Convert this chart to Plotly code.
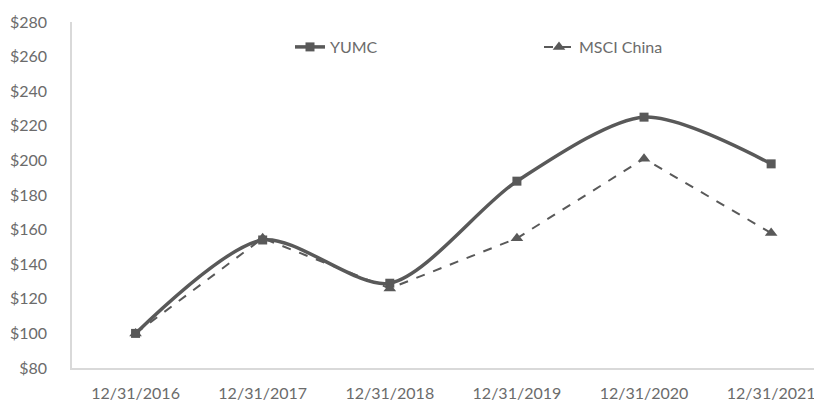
import plotly.graph_objects as go

categories = ["12/31/2016", "12/31/2017", "12/31/2018", "12/31/2019", "12/31/2020", "12/31/2021"]
yumc = [100, 154, 129, 188, 225, 198]
msci = [100, 155, 126, 155, 201, 158]
y_ticks = [80, 100, 120, 140, 160, 180, 200, 220, 240, 260, 280]
y_tick_labels = ["$" + str(v) for v in y_ticks]

grey = "#595959"
label_grey = "#6b6b6b"
fig = go.Figure()
fig.add_trace(go.Scatter(
    x=categories, y=yumc, name="YUMC", mode="lines+markers",
    line=dict(color=grey, width=3.5, shape="spline", smoothing=0.8),
    marker=dict(symbol="square", size=9, color=grey),
    legend="legend",
))
fig.add_trace(go.Scatter(
    x=categories, y=msci, name="MSCI China", mode="lines+markers",
    line=dict(color=grey, width=2, dash="dash"),
    marker=dict(symbol="triangle-up", size=11, color=grey),
    legend="legend2",
))

# page has an 8px body margin; plot area target: x 72..822, y 22..368
ly = (368 - 47) / 346
fig.update_layout(
    width=814, height=395,
    margin=dict(l=64, r=0, t=14, b=35, autoexpand=False),
    paper_bgcolor="white", plot_bgcolor="white",
    font=dict(family="Lato, Open Sans, sans-serif", size=16, color=label_grey),
    legend=dict(x=(290 - 72) / 750, y=ly, xref="paper", yref="paper",
                xanchor="left", yanchor="middle", orientation="h",
                bgcolor="rgba(0,0,0,0)", font=dict(size=16, color=label_grey)),
    legend2=dict(x=(539 - 72) / 750, y=ly, xref="paper", yref="paper",
                 xanchor="left", yanchor="middle", orientation="h",
                 bgcolor="rgba(0,0,0,0)", font=dict(size=16, color=label_grey)),
    showlegend=True,
)
fig.update_xaxes(
    type="category", range=[-0.5, 5.4], showgrid=False, automargin=False,
    showline=True, linecolor="#d9d9d9", linewidth=1.5,
    ticks="", ticklabelstandoff=10, tickfont=dict(size=16, color=label_grey),
)
fig.update_yaxes(
    range=[80, 280], tickvals=y_ticks, ticktext=y_tick_labels, showgrid=False,
    automargin=False,
    showline=True, linecolor="#d9d9d9", linewidth=1.5, zeroline=False,
    ticks="", ticklabelstandoff=20, tickfont=dict(size=16, color=label_grey),
)
fig.write_html("out.html")
